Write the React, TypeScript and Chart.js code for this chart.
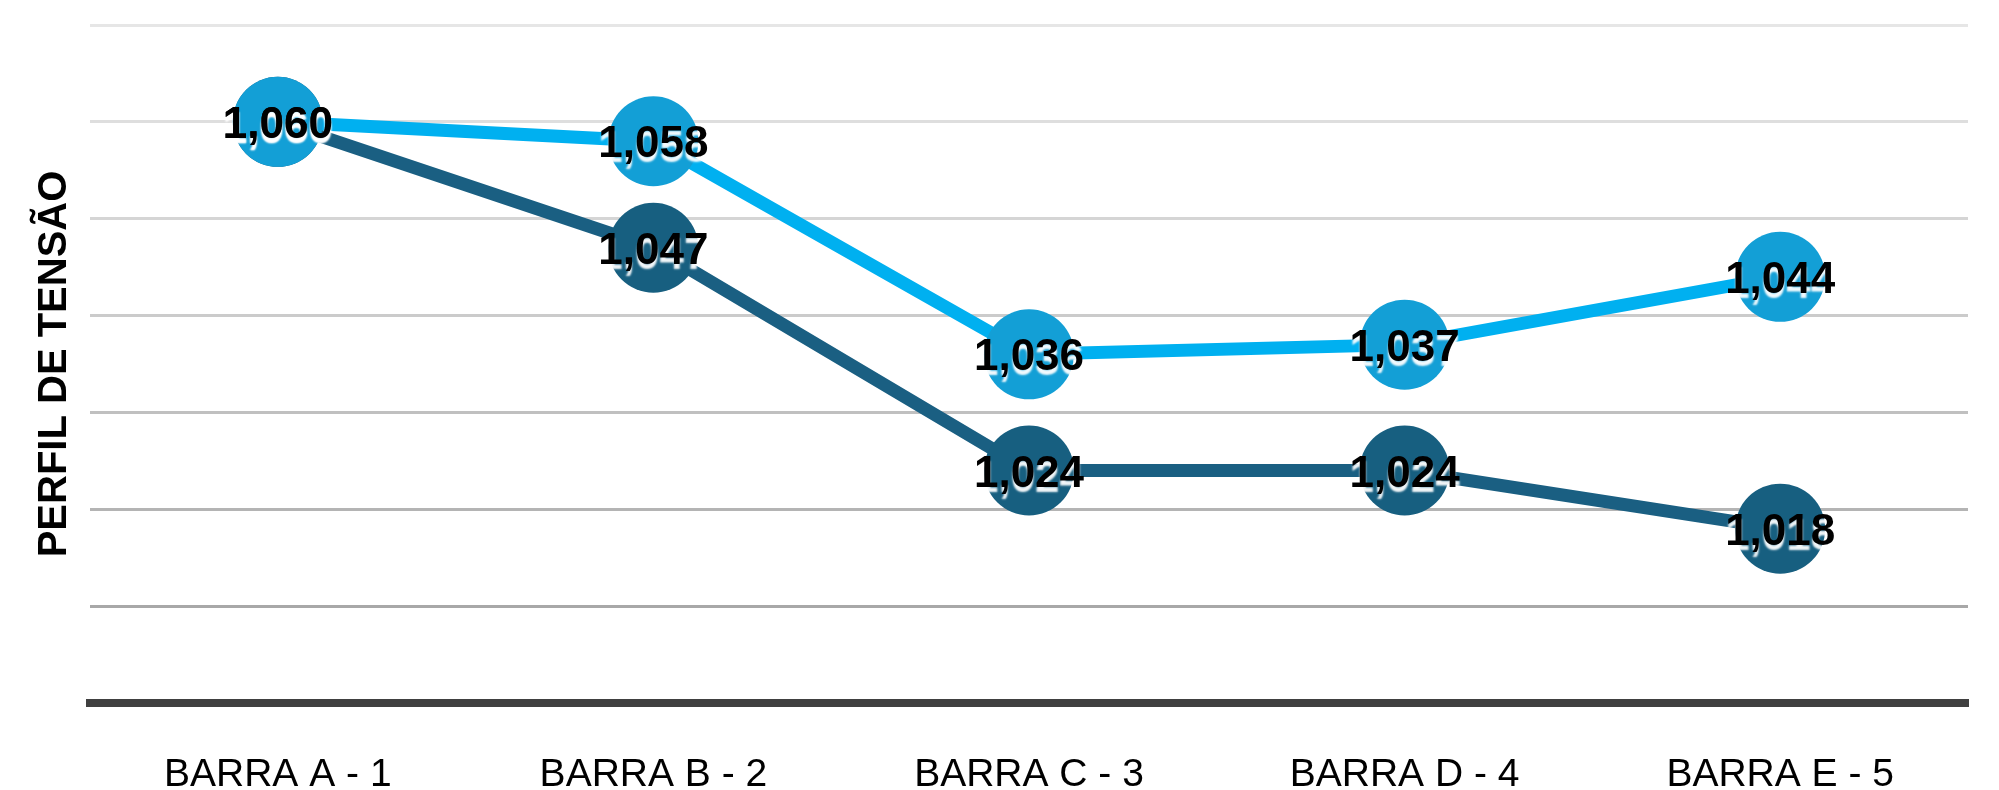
import React, { useEffect, useRef } from "react";
import { Chart, registerables } from "chart.js";

Chart.register(...registerables);

const categories = ["BARRA A - 1", "BARRA B - 2", "BARRA C - 3", "BARRA D - 4", "BARRA E - 5"];
const seriesLight = [1.06, 1.058, 1.036, 1.037, 1.044];
const seriesDark = [1.06, 1.047, 1.024, 1.024, 1.018];
const yMin = 1.0;
const yMax = 1.07;
const yStep = 0.01;
const yTitle = "PERFIL DE TENSÃO";

const gridColors = ["#9c9c9c", "#a8a8a8", "#b4b4b4", "#c0c0c0", "#cbcbcb", "#d5d5d5", "#dedede", "#e6e6e6"];

const fmt = (v: number) => v.toFixed(3).replace(".", ",");

const labelPlugin = {
  id: "valueLabels",
  afterDatasetsDraw(chart: any) {
    const ctx = chart.ctx;
    ctx.save();
    ctx.font = "bold 44px 'Liberation Sans', Arial, sans-serif";
    ctx.textAlign = "center";
    ctx.textBaseline = "middle";
    for (let d = chart.data.datasets.length - 1; d >= 0; d--) {
      const meta = chart.getDatasetMeta(d);
      const data = chart.data.datasets[d].data as number[];
      meta.data.forEach((pt: any, i: number) => {
        ctx.shadowColor = "rgba(255,255,255,0.95)";
        ctx.shadowOffsetX = 0;
        ctx.shadowOffsetY = 5;
        ctx.shadowBlur = 2;
        ctx.fillStyle = "#000000";
        ctx.fillText(fmt(data[i]), pt.x, pt.y + 4);
      });
    }
    ctx.restore();
  },
};

export default function App() {
  const ref = useRef<HTMLCanvasElement | null>(null);
  useEffect(() => {
    document.body.style.margin = "0";
    const canvas = ref.current!;
    const chart = new Chart(canvas, {
      type: "line",
      data: {
        labels: categories,
        datasets: [
          {
            label: "Série 1",
            data: seriesLight,
            borderColor: "#00b0f0",
            backgroundColor: "#139fd6",
            pointBackgroundColor: "#139fd6",
            pointBorderWidth: 0,
            pointRadius: 45,
            pointHoverRadius: 45,
            borderWidth: 13,
            tension: 0,
            clip: false as any,
          },
          {
            label: "Série 2",
            data: seriesDark,
            borderColor: "#1a5f82",
            backgroundColor: "#175f80",
            pointBackgroundColor: "#175f80",
            pointBorderWidth: 0,
            pointRadius: 45,
            pointHoverRadius: 45,
            borderWidth: 13,
            tension: 0,
            clip: false as any,
          },
        ],
      },
      options: {
        animation: false,
        responsive: false,
        devicePixelRatio: 1,
        layout: { autoPadding: false, padding: { top: 25, right: 31, left: 0, bottom: 0 } },
        plugins: {
          legend: { display: false },
          tooltip: { enabled: false },
          title: { display: false },
        },
        scales: {
          x: {
            type: "category",
            offset: true,
            grid: { display: false, drawTicks: false },
            border: { display: true, color: "#404040", width: 8 },
            ticks: {
              color: "#000000",
              font: { family: "'Liberation Sans', Arial, sans-serif", size: 39 },
              padding: 49,
              maxRotation: 0,
              autoSkip: false,
            },
            afterFit: (s: any) => {
              s.height = 87;
            },
          },
          y: {
            min: yMin,
            max: yMax,
            ticks: { display: false, stepSize: yStep },
            grid: {
              drawTicks: false,
              lineWidth: 3,
              color: (c: any) => gridColors[c.index] || "#d9d9d9",
            },
            border: { display: false },
            title: {
              display: true,
              text: yTitle,
              color: "#000000",
              font: { family: "'Liberation Sans', Arial, sans-serif", size: 40, weight: "bold" },
              padding: { top: 31, bottom: 0 },
            },
            afterFit: (s: any) => {
              s.width = 90;
            },
          },
        },
      },
      plugins: [labelPlugin],
    });
    return () => chart.destroy();
  }, []);
  return (
    <div style={{ width: 1999, height: 790, background: "#ffffff" }}>
      <canvas ref={ref} width={1999} height={790} style={{ display: "block" }} />
    </div>
  );
}
